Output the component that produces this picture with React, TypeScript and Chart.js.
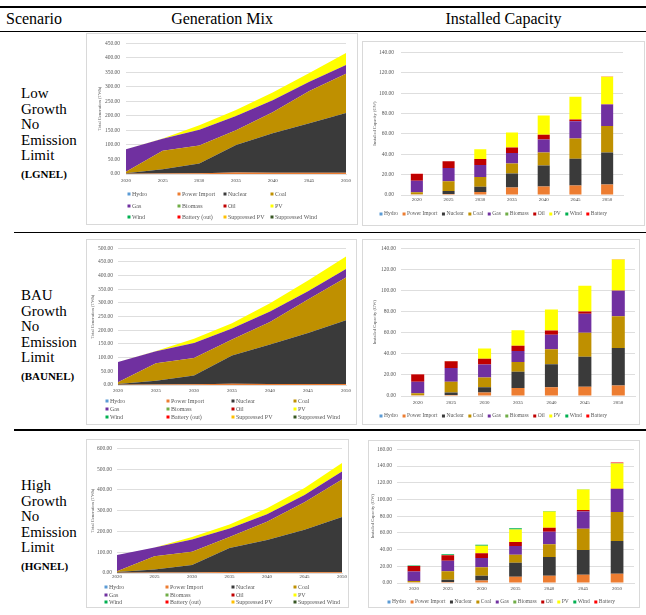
import React, { useEffect, useRef } from 'react';
import { Chart, registerables } from 'chart.js';
Chart.register(...registerables);

const FONT = '"Liberation Serif", "Times New Roman", serif';

const years = ['2020', '2025', '2030', '2035', '2040', '2045', '2050'];

const genSeries = ['Hydro', 'Power Import', 'Nuclear', 'Coal', 'Gas', 'Biomass', 'Oil', 'PV', 'Wind', 'Battery (out)', 'Suppressed PV', 'Suppressed Wind'];
const genColors = ['#5B9BD5', '#ED7D31', '#3A3A3A', '#BF9000', '#7030A0', '#70AD47', '#C00000', '#FFFF00', '#00B050', '#FF0000', '#FFC000', '#375623'];
const capSeries = ['Hydro', 'Power Import', 'Nuclear', 'Coal', 'Gas', 'Biomass', 'Oil', 'PV', 'Wind', 'Battery'];
const capColors = ['#5B9BD5', '#ED7D31', '#3A3A3A', '#BF9000', '#7030A0', '#70AD47', '#C00000', '#FFFF00', '#00B050', '#FF0000'];
const zeros = [0, 0, 0, 0, 0, 0, 0];

// ---- LGNEL generation (TWh)
const lgGenImport = [1, 2, 3, 5, 4, 4, 4];
const lgGenNuclear = [2, 14, 33, 95, 136, 171, 206];
const lgGenCoal = [5, 64, 62, 51, 73, 111, 135];
const lgGenGas = [77, 41, 54, 49, 41, 32, 30];
const lgGenPV = [0, 1, 16, 20, 27, 30, 42];
// ---- BAUNEL generation (TWh)
const bauGenImport = [1, 2, 3, 5, 4, 4, 4];
const bauGenNuclear = [3, 14, 32, 103, 144, 186, 233];
const bauGenCoal = [6, 64, 64, 58, 82, 123, 156];
const bauGenGas = [74, 43, 55, 41, 39, 30, 31];
const bauGenPV = [0, 1, 15, 19, 30, 39, 46];
// ---- HGNEL generation (TWh)
const hgGenImport = [1, 2, 3, 5, 4, 4, 4];
const hgGenNuclear = [4, 15, 36, 115, 155, 204, 265];
const hgGenCoal = [4, 63, 63, 53, 87, 132, 181];
const hgGenGas = [78, 43, 59, 41, 37, 35, 38];
const hgGenPV = [0, 0, 12, 19, 29, 34, 41];

// ---- LGNEL capacity (GW)
const lgCapImport = [0.8, 1.0, 3.0, 7.4, 8.4, 9.4, 10.3];
const lgCapNuclear = [0, 2.9, 5.0, 13.6, 20.6, 26.1, 31.3];
const lgCapCoal = [1.8, 9.6, 9.7, 10.0, 12.6, 20.0, 26.1];
const lgCapGas = [11.4, 13.0, 11.7, 10.3, 12.9, 16.8, 21.0];
const lgCapOil = [6.6, 6.5, 5.8, 5.2, 4.5, 1.7, 0.3];
const lgCapPV = [0, 0.2, 9.8, 14.8, 19.0, 22.5, 27.0];
const lgCapBattery = [0.3, 0, 0, 0, 0, 0, 0.2];
// ---- BAUNEL capacity (GW)
const bauCapImport = [0.8, 1.0, 3.4, 7.5, 8.2, 8.8, 10.0];
const bauCapNuclear = [0, 2.4, 4.8, 15.4, 21.8, 28.5, 35.5];
const bauCapCoal = [1.7, 10.1, 9.4, 9.4, 14.2, 22.6, 30.0];
const bauCapGas = [11.0, 13.1, 12.2, 10.3, 13.8, 18.1, 24.2];
const bauCapOil = [6.9, 6.4, 5.6, 5.0, 4.0, 2.0, 0.2];
const bauCapPV = [0, 0.2, 9.6, 14.8, 20.0, 24.4, 29.6];
const bauCapBattery = [0.3, 0, 0, 0, 0, 0, 0.2];
// ---- HGNEL capacity (GW)
const hgCapImport = [0.8, 1.2, 3.1, 7.5, 8.6, 9.8, 11.0];
const hgCapNuclear = [0, 2.7, 5.5, 16.8, 22.4, 29.8, 39.2];
const hgCapCoal = [1.6, 10.1, 10.2, 9.4, 15.3, 25.4, 34.9];
const hgCapGas = [11.3, 12.7, 11.0, 10.6, 14.9, 20.5, 27.4];
const hgCapOil = [6.7, 6.6, 5.9, 4.7, 4.8, 2.0, 0.3];
const hgCapPV = [0, 0.2, 9.0, 15.0, 19.5, 24.3, 30.2];
const hgCapWind = [0.6, 1.0, 1.2, 1.5, 0.8, 0.4, 0.3];
const hgCapBattery = [0, 0, 0, 0, 0, 0, 1.0];

const lgGen = [zeros, lgGenImport, lgGenNuclear, lgGenCoal, lgGenGas, zeros, zeros, lgGenPV, zeros, zeros, zeros, zeros];
const bauGen = [zeros, bauGenImport, bauGenNuclear, bauGenCoal, bauGenGas, zeros, zeros, bauGenPV, zeros, zeros, zeros, zeros];
const hgGen = [zeros, hgGenImport, hgGenNuclear, hgGenCoal, hgGenGas, zeros, zeros, hgGenPV, zeros, zeros, zeros, zeros];
const lgCap = [zeros, lgCapImport, lgCapNuclear, lgCapCoal, lgCapGas, zeros, lgCapOil, lgCapPV, zeros, lgCapBattery];
const bauCap = [zeros, bauCapImport, bauCapNuclear, bauCapCoal, bauCapGas, zeros, bauCapOil, bauCapPV, zeros, bauCapBattery];
const hgCap = [zeros, hgCapImport, hgCapNuclear, hgCapCoal, hgCapGas, zeros, hgCapOil, hgCapPV, hgCapWind, hgCapBattery];

const TEXT = '#595959';
const GRID = '#dedede';

function legendPlugin(cfg: any) {
  return {
    id: 'customLegend',
    afterDraw(chart: any) {
      const ctx = chart.ctx;
      ctx.save();
      ctx.font = `${cfg.size}px ${FONT}`;
      ctx.textBaseline = 'middle';
      ctx.textAlign = 'left';
      const ds = chart.data.datasets;
      if (cfg.cols) {
        ds.forEach((d: any, i: number) => {
          const x = cfg.cols[i % cfg.cols.length];
          const y = cfg.rows[Math.floor(i / cfg.cols.length)];
          ctx.fillStyle = d.backgroundColor;
          ctx.fillRect(x - 1.5, y - 1.5, 3, 3);
          ctx.fillStyle = TEXT;
          ctx.fillText(d.label, x + 3, y);
        });
      } else {
        let x = cfg.x;
        ds.forEach((d: any) => {
          ctx.fillStyle = d.backgroundColor;
          ctx.fillRect(x - 1.5, cfg.y - 1.5, 3, 3);
          ctx.fillStyle = TEXT;
          ctx.fillText(d.label, x + 3, cfg.y);
          x += 3 + ctx.measureText(d.label).width + cfg.gap;
        });
      }
      ctx.restore();
    },
  };
}

function yScale(o: any) {
  return {
    stacked: true,
    min: 0,
    max: o.max,
    ticks: {
      stepSize: o.step,
      callback: (v: any) => Number(v).toFixed(2),
      font: { family: FONT, size: 5.5 },
      color: TEXT,
      padding: o.tickPad,
    },
    grid: { color: GRID, drawTicks: false, lineWidth: 1 },
    border: { display: false },
    title: {
      display: true,
      text: o.title,
      font: { family: FONT, size: 4.5 },
      color: TEXT,
      padding: { top: o.titlePad, bottom: 0 },
    },
    afterFit: (s: any) => {
      s.width = o.width;
    },
  };
}

function xScale(o: any) {
  return {
    stacked: true,
    grid: { display: false, drawTicks: false },
    border: { display: true, color: GRID },
    ticks: {
      font: { family: FONT, size: 5 },
      color: '#404040',
      padding: o.pad,
      maxRotation: 0,
      autoSkip: false,
    },
    afterFit: (s: any) => {
      s.height = o.height;
    },
  };
}

function genConfig(values: number[][], L: any) {
  return {
    type: 'line',
    data: {
      labels: years,
      datasets: genSeries.map((name, i) => ({
        label: name,
        data: values[i],
        backgroundColor: genColors[i],
        borderColor: 'rgba(0,0,0,0)',
        borderWidth: 0,
        pointRadius: 0,
        fill: i === 0 ? 'origin' : '-1',
        tension: 0,
      })),
    },
    options: {
      responsive: false,
      animation: false,
      events: [],
      layout: { padding: { left: 0, top: L.top, right: L.right, bottom: 0 } },
      plugins: { legend: { display: false }, tooltip: { enabled: false } },
      scales: {
        x: xScale({ pad: L.xPad, height: L.xh }),
        y: yScale({ max: L.max, step: L.step, tickPad: L.tickPad, title: 'Total Generation (TWh)', titlePad: L.titlePad, width: L.yw }),
      },
    },
    plugins: [legendPlugin(L.legend)],
  };
}

function capConfig(values: number[][], L: any) {
  return {
    type: 'bar',
    data: {
      labels: years,
      datasets: capSeries.map((name, i) => ({
        label: name,
        data: values[i],
        backgroundColor: capColors[i],
        borderWidth: 0,
        barPercentage: L.bar,
        categoryPercentage: 1,
      })),
    },
    options: {
      responsive: false,
      animation: false,
      events: [],
      layout: { padding: { left: 0, top: L.top, right: L.right, bottom: 0 } },
      plugins: { legend: { display: false }, tooltip: { enabled: false } },
      scales: {
        x: xScale({ pad: L.xPad, height: L.xh }),
        y: yScale({ max: L.max, step: L.step, tickPad: L.tickPad, title: 'Installed Capacity (GW)', titlePad: L.titlePad, width: L.yw }),
      },
    },
    plugins: [legendPlugin(L.legend)],
  };
}

type Box = { left: number; top: number; w: number; h: number };

function ChartFrame({ box, make }: { box: Box; make: () => any }) {
  const ref = useRef<HTMLCanvasElement>(null);
  useEffect(() => {
    const chart = new Chart(ref.current as HTMLCanvasElement, make());
    return () => chart.destroy();
  }, []);
  return (
    <div
      style={{
        position: 'absolute',
        left: box.left,
        top: box.top,
        width: box.w,
        height: box.h,
        border: '1px solid #d9d9d9',
        boxSizing: 'border-box',
        background: '#fff',
      }}
    >
      <canvas ref={ref} width={box.w - 2} height={box.h - 2} style={{ display: 'block' }} />
    </div>
  );
}

function Scenario({ top, lines, code }: { top: number; lines: string[]; code: string }) {
  return (
    <div style={{ position: 'absolute', left: 21, top, fontFamily: FONT, fontSize: 15, color: '#000' }}>
      {lines.map((l) => (
        <div key={l} style={{ lineHeight: '15.6px', whiteSpace: 'nowrap' }}>{l}</div>
      ))}
      <div style={{ lineHeight: '16px', marginTop: 2, fontWeight: 'bold', fontSize: 11, whiteSpace: 'nowrap' }}>{code}</div>
    </div>
  );
}

function HLine({ top, left, thick }: { top: number; left: number; thick: number }) {
  return <div style={{ position: 'absolute', left, top, width: 646 - left, height: thick, background: '#000' }} />;
}

export default function App() {
  return (
    <div style={{ position: 'absolute', left: 0, top: 0, width: 646, height: 615, background: '#fff', overflow: 'hidden', fontFamily: FONT }}>
      <HLine top={6} left={0} thick={1.5} />
      <div style={{ position: 'absolute', left: 6, top: 10, fontSize: 16, lineHeight: '18px' }}>Scenario</div>
      <div style={{ position: 'absolute', left: 86, width: 272, top: 10, fontSize: 16, lineHeight: '18px', textAlign: 'center' }}>Generation Mix</div>
      <div style={{ position: 'absolute', left: 362, width: 283, top: 10, fontSize: 16, lineHeight: '18px', textAlign: 'center' }}>Installed Capacity</div>
      <HLine top={31} left={0} thick={1} />
      <HLine top={232} left={14} thick={1} />
      <HLine top={429} left={14} thick={2} />

      <Scenario top={86} lines={['Low', 'Growth', 'No', 'Emission', 'Limit']} code="(LGNEL)" />
      <Scenario top={288} lines={['BAU', 'Growth', 'No', 'Emission', 'Limit']} code="(BAUNEL)" />
      <Scenario top={478} lines={['High', 'Growth', 'No', 'Emission', 'Limit']} code="(HGNEL)" />

      <ChartFrame
        box={{ left: 86, top: 33, w: 272, h: 192 }}
        make={() =>
          genConfig(lgGen, {
            top: 7, right: 11, yw: 39, xh: 50, xPad: 4, tickPad: 6, titlePad: 9.8, max: 450, step: 50,
            legend: { size: 6, cols: [42, 92, 138, 185], rows: [160, 172, 183] },
          })
        }
      />
      <ChartFrame
        box={{ left: 362, top: 41, w: 283, h: 185 }}
        make={() =>
          capConfig(lgCap, {
            top: 8, right: 21, yw: 38, xh: 30, xPad: 1.5, tickPad: 7, titlePad: 9.3, max: 140, step: 20, bar: 0.38,
            legend: { size: 5.5, x: 18, y: 172, gap: 6 },
          })
        }
      />
      <ChartFrame
        box={{ left: 86, top: 239, w: 271, h: 186 }}
        make={() =>
          genConfig(bauGen, {
            top: 7, right: 10, yw: 31, xh: 39, xPad: 3, tickPad: 5, titlePad: 3.3, max: 500, step: 50,
            legend: { size: 6, cols: [20, 81, 146, 208], rows: [161, 169, 177] },
          })
        }
      />
      <ChartFrame
        box={{ left: 362, top: 239, w: 278, h: 186 }}
        make={() =>
          capConfig(bauCap, {
            top: 7, right: 4, yw: 38, xh: 28, xPad: 4, tickPad: 5, titlePad: 9.3, max: 140, step: 20, bar: 0.39,
            legend: { size: 5.5, x: 18, y: 176, gap: 6 },
          })
        }
      />
      <ChartFrame
        box={{ left: 86, top: 439, w: 263, h: 169 }}
        make={() =>
          genConfig(hgGen, {
            top: 6, right: 5, yw: 30, xh: 34, xPad: 1, tickPad: 5, titlePad: 3.3, max: 600, step: 100,
            legend: { size: 6, cols: [19, 80, 146, 208], rows: [147, 155, 162] },
          })
        }
      />
      <ChartFrame
        box={{ left: 368, top: 440, w: 272, h: 168 }}
        make={() =>
          capConfig(hgCap, {
            top: 6, right: 5, yw: 28, xh: 24, xPad: 3, tickPad: 5, titlePad: 1.3, max: 160, step: 20, bar: 0.375,
            legend: { size: 5.5, x: 20, y: 161, gap: 6 },
          })
        }
      />
    </div>
  );
}
